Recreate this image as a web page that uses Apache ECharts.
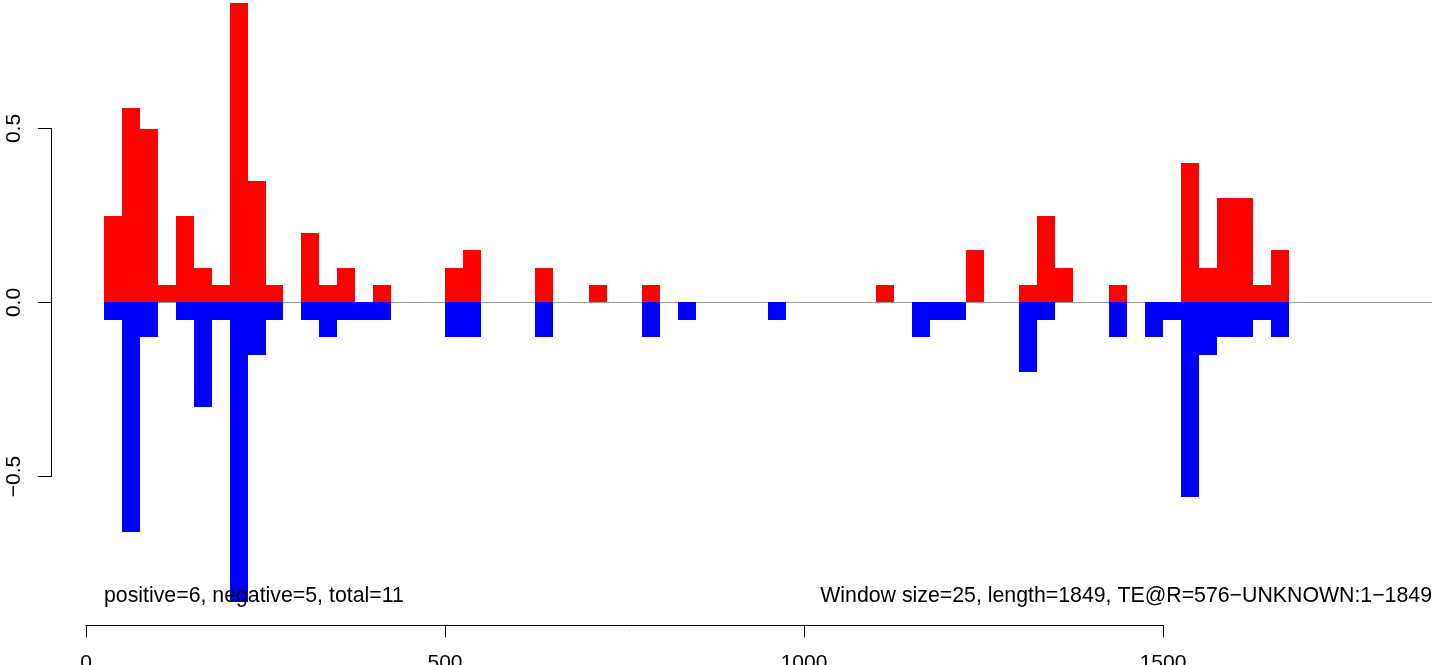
<!DOCTYPE html>
<html>
<head>
<meta charset="utf-8">
<script src="https://cdn.jsdelivr.net/npm/echarts@6/dist/echarts.min.js"></script>
<style>
html,body{margin:0;padding:0;background:#fff;}
#chart{width:1444px;height:665px;}
</style>
</head>
<body>
<div id="chart"></div>
<script>
// ---- data ----
const windowSize = 25;
const seqLength = 1849;
const windowStarts = [25, 50, 75, 100, 125, 150, 175, 200, 225, 250, 300, 325, 350, 375, 400, 500, 525, 625, 700, 775, 825, 950, 1100, 1150, 1175, 1200, 1225, 1300, 1325, 1350, 1425, 1475, 1500, 1525, 1550, 1575, 1600, 1625, 1650];
const positiveValues = [0.25, 0.56, 0.5, 0.05, 0.25, 0.1, 0.05, 0.86, 0.35, 0.05, 0.2, 0.05, 0.1, 0, 0.05, 0.1, 0.15, 0.1, 0.05, 0.05, 0, 0, 0.05, 0, 0, 0, 0.15, 0.05, 0.25, 0.1, 0.05, 0, 0, 0.4, 0.1, 0.3, 0.3, 0.05, 0.15];
const negativeValues = [-0.05, -0.66, -0.1, 0, -0.05, -0.3, -0.05, -0.86, -0.15, -0.05, -0.05, -0.1, -0.05, -0.05, -0.05, -0.1, -0.1, -0.1, 0, -0.1, -0.05, -0.05, 0, -0.1, -0.05, -0.05, 0, -0.2, -0.05, 0, -0.1, -0.1, -0.05, -0.56, -0.15, -0.1, -0.1, -0.05, -0.1];
const baselineRange = [25, 1875];
const xTickValues = [0, 500, 1000, 1500];
const yTickValues = [-0.5, 0, 0.5];
const yTickLabels = ['\u22120.5', '0.0', '0.5'];
const leftNote = 'positive=6, negative=5, total=11';
const rightNote = 'Window size=25, length=1849, TE@R=576\u2212UNKNOWN:1\u22121849';

// ---- layout ----
const FONT = '"Liberation Sans", Arial, Helvetica, sans-serif';
const FS = 21;
const NOTE_FS = 21.3;
const pxPerX = 0.718;          // pixels per sequence position
const x0px = 86;               // pixel of position 0
const gridLeft = 51;
const xMin = -(x0px - gridLeft) / pxPerX;
const xMax = baselineRange[1];
const gridRight = 1444 - (x0px + xMax * pxPerX);
const zeroPx = 302.5, pxPerY = 348, axisBottomPx = 626;
const yMax = zeroPx / pxPerY;
const yMin = -(axisBottomPx - zeroPx) / pxPerY;

const redData = [], blueData = [];
windowStarts.forEach((s, i) => {
  if (positiveValues[i] > 0) redData.push([s, positiveValues[i]]);
  if (negativeValues[i] < 0) blueData.push([s, negativeValues[i]]);
});

function makeRender(color) {
  return function (params, api) {
    const s = api.value(0), v = api.value(1);
    const a = api.coord([s, 0]);
    const b = api.coord([s + windowSize, v]);
    const xa = Math.round(a[0]), xb = Math.round(b[0]);
    const ya = Math.round(a[1] - 0.5), yb = Math.round(b[1]);
    return {
      type: 'rect',
      shape: { x: xa, y: Math.min(ya, yb), width: xb - xa, height: Math.abs(yb - ya) },
      style: { fill: color }
    };
  };
}

const chart = echarts.init(document.getElementById('chart'), null, { renderer: 'canvas' });
const option = {
  animation: false,
  backgroundColor: '#ffffff',
  textStyle: { fontFamily: FONT },
  grid: [
    { left: gridLeft, right: gridRight, top: 0, bottom: 665 - axisBottomPx, containLabel: false },
    { left: x0px, width: xTickValues[3] * pxPerX, top: axisBottomPx - 1, height: 1, containLabel: false },
    { left: gridLeft, width: 1, top: zeroPx - 0.5 * pxPerY, height: pxPerY, containLabel: false }
  ],
  xAxis: [
    { gridIndex: 0, type: 'value', min: xMin, max: xMax, show: false },
    { gridIndex: 1, type: 'value', min: 0, max: 1500, interval: 500, position: 'bottom',
      axisLine: { show: true, onZero: false, lineStyle: { color: '#000', width: 1 } },
      axisTick: { show: true, length: 12, lineStyle: { color: '#000', width: 1 } },
      axisLabel: { show: true, margin: 27, fontSize: FS, color: '#000', fontFamily: FONT,
                   formatter: v => String(v) },
      splitLine: { show: false } },
    { gridIndex: 2, type: 'value', min: 0, max: 1, show: false }
  ],
  yAxis: [
    { gridIndex: 0, type: 'value', min: yMin, max: yMax, show: false },
    { gridIndex: 1, type: 'value', min: 0, max: 1, show: false },
    { gridIndex: 2, type: 'value', min: -0.5, max: 0.5, interval: 0.5, position: 'left',
      axisLine: { show: true, onZero: false, lineStyle: { color: '#000', width: 1 } },
      axisTick: { show: true, length: 13, lineStyle: { color: '#000', width: 1 } },
      axisLabel: { show: true, margin: 26, rotate: 90, fontSize: FS, color: '#000', fontFamily: FONT,
                   formatter: v => yTickLabels[yTickValues.indexOf(Math.round(v * 10) / 10)] },
      splitLine: { show: false } }
  ],
  series: [
    { type: 'line', xAxisIndex: 0, yAxisIndex: 0, data: [[baselineRange[0], 0], [baselineRange[1], 0]],
      symbol: 'none', z: 1, silent: true, lineStyle: { color: '#999999', width: 1 } },
    { type: 'custom', name: 'positive', xAxisIndex: 0, yAxisIndex: 0, z: 2,
      renderItem: makeRender('#FF0000'), data: redData, silent: true },
    { type: 'custom', name: 'negative', xAxisIndex: 0, yAxisIndex: 0, z: 3,
      renderItem: makeRender('#0000FF'), data: blueData, silent: true }
  ],
  graphic: [
    { type: 'text', x: 104, y: 596, z: 10,
      style: { text: leftNote, fontSize: NOTE_FS, fontFamily: FONT, fill: '#000', align: 'left', verticalAlign: 'middle' } },
    { type: 'text', x: 1432, y: 596, z: 10,
      style: { text: rightNote, fontSize: NOTE_FS, fontFamily: FONT, fill: '#000', align: 'right', verticalAlign: 'middle' } }
  ]
};
chart.setOption(option);
</script>
</body>
</html>
